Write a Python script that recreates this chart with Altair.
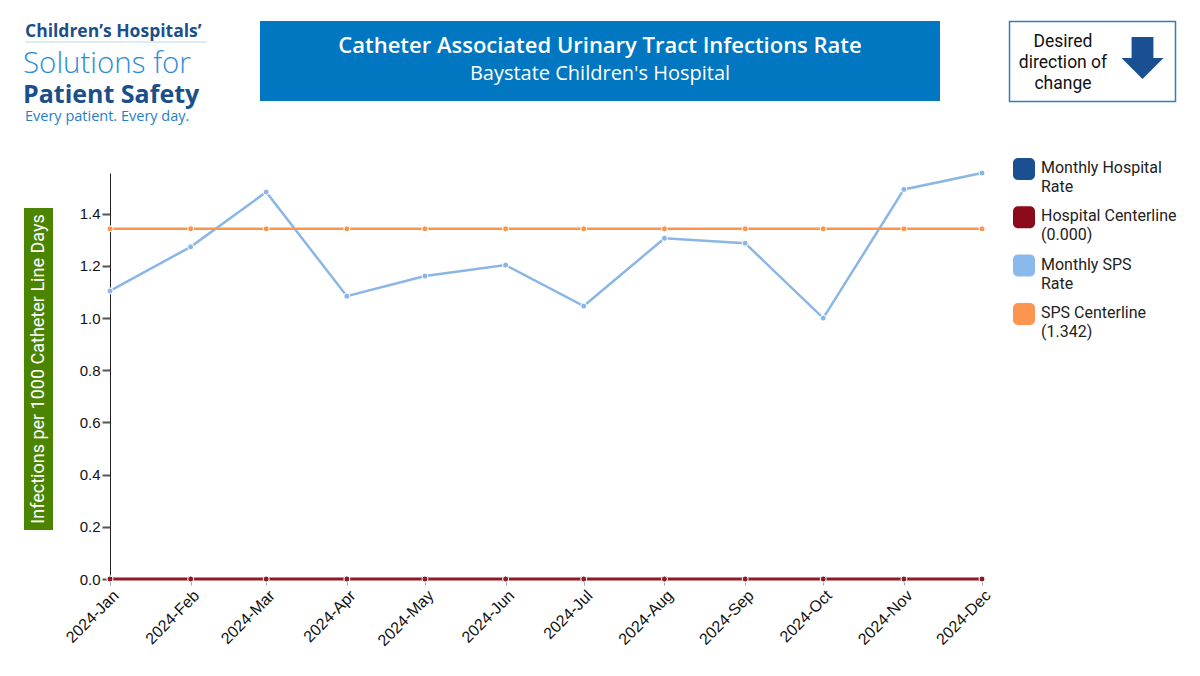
import altair as alt
import pandas as pd

months = ["2024/01/01", "2024/02/01", "2024/03/01", "2024/04/01", "2024/05/01", "2024/06/01",
          "2024/07/01", "2024/08/01", "2024/09/01", "2024/10/01", "2024/11/01", "2024/12/01"]
hospital_rate = [0, 0, 0, 0, 0, 0, 0, 0, 0, 0, 0, 0]
hospital_center = [0.0] * 12
sps_rate = [1.104, 1.273, 1.483, 1.084, 1.161, 1.203, 1.046, 1.306, 1.287, 1.000, 1.493, 1.556]
sps_center = [1.342] * 12

series_names = ["Monthly Hospital Rate", "Hospital Centerline", "Monthly SPS Rate", "SPS Centerline"]
legend_labels = ["Monthly Hospital\nRate", "Hospital Centerline\n(0.000)", "Monthly SPS\nRate", "SPS Centerline\n(1.342)"]
series_colors = ["#1a5091", "#8b0a1a", "#8ab9eb", "#fc9550"]
line_colors = ["#1a5091", "#8e1b24", "#8ab6e6", "#f9954f"]

title_text = "Catheter Associated Urinary Tract Infections Rate"
subtitle_text = "Baystate Children's Hospital"
y_title = "Infections per 1000 Catheter Line Days"

rows = []
for name, vals in zip(series_names, [hospital_rate, hospital_center, sps_rate, sps_center]):
    for m, v in zip(months, vals):
        rows.append({"month": m, "series": name, "value": v})
df = pd.DataFrame(rows)

ymax = max(sps_rate)
xs = alt.X("month:T", scale=alt.Scale(nice=False),
           axis=alt.Axis(values=[alt.DateTime(year=2024, month=i, date=1) for i in range(1, 13)],
                         format="%Y-%b", labelAngle=315, title=None, grid=False,
                         labelFont="Liberation Sans", labelFontSize=16, labelColor="#111",
                         tickColor="#9aa0c0", tickSize=6, domainColor="#222"))
ys = alt.Y("value:Q", scale=alt.Scale(domain=[0, ymax], nice=False, zero=True),
           axis=alt.Axis(values=[0, 0.2, 0.4, 0.6, 0.8, 1.0, 1.2, 1.4], format=".1f", title=None,
                         grid=False, labelFont="Liberation Sans", labelFontSize=15, labelColor="#111",
                         tickColor="#555", tickSize=8, tickWidth=2, domainColor="#222", labelPadding=2))

def series_layer(i, width):
    return alt.Chart(df).transform_filter(alt.datum.series == series_names[i]).mark_line(
        color=line_colors[i], strokeWidth=width,
        point=alt.OverlayMarkDef(filled=True, fill=line_colors[i], size=36, stroke="white", strokeWidth=1, opacity=1)
    ).encode(x=xs, y=ys)

layers = [series_layer(0, 2), series_layer(1, 3), series_layer(2, 2.5), series_layer(3, 2.5)]

one = pd.DataFrame({"a": [1]})

def txt(text, x, y, size, color, font, weight="normal", align="left", baseline="middle", angle=0, lh=None):
    kw = dict(text=text, fontSize=size, color=color, font=font, fontWeight=weight, align=align, baseline=baseline)
    if angle:
        kw["angle"] = angle
    if lh:
        kw["lineHeight"] = lh
        kw["lineBreak"] = "\n"
    return alt.Chart(one).mark_text(**kw).encode(x=alt.value(x), y=alt.value(y))

def box(x1, x2, y1, y2, fill, stroke=None, sw=0):
    kw = dict(fill=fill)
    if stroke:
        kw.update(stroke=stroke, strokeWidth=sw)
    return alt.Chart(one).mark_rect(**kw).encode(x=alt.value(x1), x2=alt.value(x2), y=alt.value(y1), y2=alt.value(y2))

deco = []
# title box
deco.append(box(150, 830, -152, -72, "#0077c0"))
deco.append(txt(title_text, 490, -127, 22, "white", "Open Sans", 600, "center"))
deco.append(txt(subtitle_text, 490, -99, 20, "white", "Open Sans", "normal", "center"))
# desired direction box
deco.append(box(899.5, 1065.5, -151.5, -71.5, "white", "#2a7fc4", 1.5))
deco.append(txt("Desired\ndirection of\nchange", 953, -140, 17.5, "#111", "Roboto", "normal", "center", "top", lh=21))
deco.append(alt.Chart(one).mark_point(
    shape="M-0.52,-1L0.52,-1L0.52,0L1,0L0,1L-1,0L-0.52,0Z", filled=True, size=1764,
    color="#1a5091", opacity=1).encode(x=alt.value(1032.5), y=alt.value(-115)))
# logo
deco.append(txt("Children\u2019s Hospitals\u2019", -85, -141, 17.5, "#1b4f8c", "Open Sans", "bold"))
deco.append(alt.Chart(one).mark_rule(color="#b9d7ee", strokeWidth=1).encode(
    x=alt.value(-85), x2=alt.value(97), y=alt.value(-131)))
deco.append(txt("Solutions for", -87, -109, 29.5, "#2a8dd4", "Open Sans", 300))
deco.append(txt("Patient Safety", -87, -78, 25, "#1b4f8c", "Open Sans", "bold"))
deco.append(txt("Every patient. Every day.", -85, -56, 14.5, "#2680c6", "Open Sans", "normal"))
# y title
deco.append(box(-86, -57, 35, 357, "#4b8500"))
deco.append(txt(y_title, -71.5, 196, 18, "white", "Roboto", "normal", "center", "middle", angle=270))
# legend
for i in range(4):
    yc = -4 + i * 48.3
    deco.append(alt.Chart(one).mark_rect(fill=series_colors[i], cornerRadius=5).encode(
        x=alt.value(903), x2=alt.value(925), y=alt.value(yc - 11), y2=alt.value(yc + 11)))
    deco.append(txt(legend_labels[i], 931, yc - 9, 16, "#222", "Roboto", "normal", "left", "top", lh=19))

chart = alt.layer(*layers, *deco).properties(
    width=872, height=406,
    autosize=alt.AutoSizeParams(type="none"),
    padding={"left": 102, "top": 165, "right": 210, "bottom": 89},
    background="white",
).configure_view(stroke=None)

chart.save("out.html", embed_options={"renderer": "svg", "actions": False})
